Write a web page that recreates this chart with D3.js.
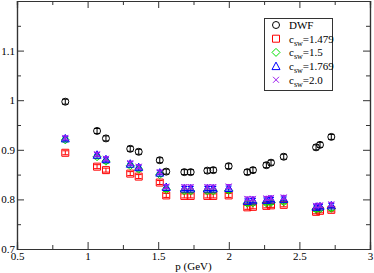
<!DOCTYPE html>
<html>
<head>
<meta charset="utf-8">
<script src="https://cdn.jsdelivr.net/npm/d3@7"></script>
<style>
  body { margin: 0; background: #fff; }
  svg { display: block; }
</style>
</head>
<body>
<div class="chart"></div>
<script>
var momenta = [0.842, 1.067, 1.130, 1.302, 1.362, 1.511, 1.557, 1.685, 1.730, 1.848, 1.890, 1.999, 2.131, 2.171, 2.266, 2.299, 2.389, 2.618, 2.646, 2.726];
var dwf   = [0.997, 0.938, 0.923, 0.902, 0.896, 0.879, 0.856, 0.855, 0.855, 0.858, 0.859, 0.867, 0.855, 0.859, 0.869, 0.874, 0.886, 0.905, 0.910, 0.926];
var c1479 = [0.894, 0.866, 0.859, 0.852, 0.846, 0.834, 0.808, 0.807, 0.807, 0.807, 0.807, 0.808, 0.784, 0.785, 0.787, 0.788, 0.789, 0.775, 0.777, 0.779];
var c15   = [0.920, 0.886, 0.877, 0.868, 0.861, 0.850, 0.820, 0.817, 0.817, 0.817, 0.817, 0.818, 0.792, 0.793, 0.793, 0.794, 0.795, 0.780, 0.781, 0.782];
var c1769 = [0.923, 0.890, 0.881, 0.872, 0.865, 0.854, 0.825, 0.822, 0.822, 0.822, 0.822, 0.823, 0.797, 0.798, 0.799, 0.800, 0.801, 0.785, 0.786, 0.788];
var c20   = [0.924, 0.891, 0.882, 0.873, 0.866, 0.855, 0.826, 0.825, 0.825, 0.825, 0.825, 0.826, 0.801, 0.801, 0.802, 0.803, 0.804, 0.787, 0.788, 0.790];
var errDwf = 0.005;
var errClover = 0.004;

var xTicks = [0.5, 1, 1.5, 2, 2.5, 3];
var xMinor = [0.75, 1.25, 1.75, 2.25, 2.75];
var yTicks = [0.7, 0.8, 0.9, 1, 1.1, 1.2];
var yMinor = [0.75, 0.85, 0.95, 1.05, 1.15];

var seriesNames = ["DWF", "1.479", "1.5", "1.769", "2.0"];
var seriesValues = [dwf, c1479, c15, c1769, c20];
var seriesColors = ["#000000", "#ff0000", "#00e000", "#0000ff", "#a020f0"];
var seriesShapes = ["circle", "square", "diamond", "triangle", "cross"];

var W = 374, H = 273;
var pLeft = 17, pRight = 370, pTop = 1, pBottom = 249;

var x = d3.scaleLinear().domain([0.5, 3]).range([pLeft, pRight]);
var y = d3.scaleLinear().domain([0.7, 1.2]).range([pBottom, pTop]);

var svg = d3.select(".chart").append("svg")
    .attr("width", W)
    .attr("height", H)
    .style("font-family", "'Liberation Serif', 'DejaVu Serif', serif");

function fmt(d) { return d3.format("")(d); }

// axes, ticks pointing inward on all four sides
svg.append("g").attr("transform", "translate(0," + pBottom + ")")
    .call(d3.axisBottom(x).tickValues(xTicks).tickFormat(fmt).tickSize(-7).tickPadding(3));
svg.append("g").attr("transform", "translate(0," + pBottom + ")")
    .call(d3.axisBottom(x).tickValues(xMinor).tickFormat("").tickSize(-4));
svg.append("g").attr("transform", "translate(0," + pTop + ")")
    .call(d3.axisTop(x).tickValues(xTicks).tickFormat("").tickSize(-7));
svg.append("g").attr("transform", "translate(0," + pTop + ")")
    .call(d3.axisTop(x).tickValues(xMinor).tickFormat("").tickSize(-4));

svg.append("g").attr("transform", "translate(" + pLeft + ",0)")
    .call(d3.axisLeft(y).tickValues(yTicks.slice(0, 5)).tickFormat(fmt).tickSize(-7).tickPadding(2));
svg.append("g").attr("transform", "translate(" + pLeft + ",0)")
    .call(d3.axisLeft(y).tickValues(yMinor).tickFormat("").tickSize(-4));
svg.append("g").attr("transform", "translate(" + pRight + ",0)")
    .call(d3.axisRight(y).tickValues(yTicks).tickFormat("").tickSize(-7));
svg.append("g").attr("transform", "translate(" + pRight + ",0)")
    .call(d3.axisRight(y).tickValues(yMinor).tickFormat("").tickSize(-4));

svg.selectAll(".domain").attr("stroke", "#333").attr("stroke-width", 1.2);
svg.selectAll(".tick line").attr("stroke", "#333");
svg.selectAll(".tick text")
    .style("font-family", "'Liberation Serif', serif")
    .style("font-size", "11px")
    .attr("fill", "#000");

svg.append("text")
    .attr("x", x(1.75))
    .attr("y", 270)
    .attr("text-anchor", "middle")
    .style("font-size", "11px")
    .text("p (GeV)");

// marker paths
function shapePath(shape, cx, cy) {
    var s = 3.5;
    if (shape == "circle") {
        return "M" + (cx - s) + "," + cy + "a" + s + "," + s + " 0 1,0 " + (2 * s) + ",0a" + s + "," + s + " 0 1,0 " + (-2 * s) + ",0";
    } else if (shape == "square") {
        return "M" + (cx - s) + "," + (cy - s) + "h" + (2 * s) + "v" + (2 * s) + "h" + (-2 * s) + "Z";
    } else if (shape == "diamond") {
        return "M" + cx + "," + (cy - s - 0.5) + "L" + (cx + s + 0.5) + "," + cy + "L" + cx + "," + (cy + s + 0.5) + "L" + (cx - s - 0.5) + "," + cy + "Z";
    } else if (shape == "triangle") {
        return "M" + cx + "," + (cy - s - 0.5) + "L" + (cx + s + 0.5) + "," + (cy + s) + "L" + (cx - s - 0.5) + "," + (cy + s) + "Z";
    } else {
        var k = 3;
        return "M" + (cx - k) + "," + (cy - k) + "L" + (cx + k) + "," + (cy + k) + "M" + (cx + k) + "," + (cy - k) + "L" + (cx - k) + "," + (cy + k);
    }
}

// draw series (DWF last so it sits on top)
var order = [1, 2, 3, 4, 0];
order.forEach(function (si) {
    var vals = seriesValues[si];
    var col = seriesColors[si];
    var err = si == 0 ? errDwf : errClover;
    var g = svg.append("g");
    vals.forEach(function (v, i) {
        var cx = x(momenta[i]), cy = y(v);
        var y1 = y(v + err), y2 = y(v - err);
        g.append("path")
            .attr("d", "M" + cx + "," + y1 + "V" + y2 +
                "M" + (cx - 3) + "," + y1 + "h6M" + (cx - 3) + "," + y2 + "h6")
            .attr("stroke", col).attr("stroke-width", 1).attr("fill", "none");
        g.append("path")
            .attr("d", shapePath(seriesShapes[si], cx, cy))
            .attr("stroke", col).attr("stroke-width", 1).attr("fill", "none");
    });
});

// legend
var lg = svg.append("g");
lg.append("rect")
    .attr("x", 264.5).attr("y", 18.5)
    .attr("width", 68).attr("height", 72)
    .attr("fill", "#fff").attr("stroke", "#333").attr("stroke-width", 1);

seriesNames.forEach(function (name, i) {
    var ly = 25 + i * 13.7;
    lg.append("path")
        .attr("d", shapePath(seriesShapes[i], 276, ly))
        .attr("stroke", seriesColors[i]).attr("stroke-width", 1).attr("fill", "none");
    var t = lg.append("text")
        .attr("x", 289).attr("y", ly + 4)
        .style("font-size", "11px");
    if (i == 0) {
        t.text(name);
    } else {
        t.append("tspan").text("c");
        t.append("tspan").attr("dy", 3).style("font-size", "8px").text("sw");
        t.append("tspan").attr("dy", -3).text("=" + name);
    }
});
</script>
</body>
</html>
